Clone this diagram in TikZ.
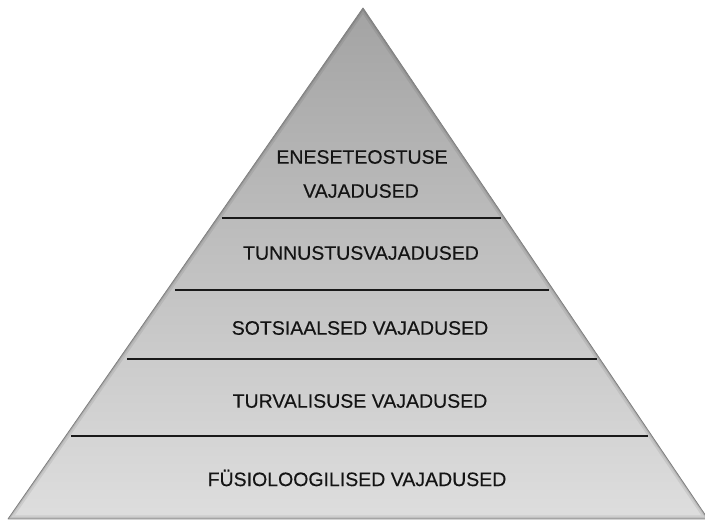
\documentclass[tikz,border=0pt]{standalone}
\usepackage{fontspec}
\setmainfont{Liberation Sans}
\newfontfamily\levelfont[FakeBold=0.25]{Liberation Sans}
\begin{document}
\begin{tikzpicture}[x=1pt,y=-1pt,
  level/.style={font=\levelfont\fontsize{19.5}{22}\selectfont, text=black!92, inner sep=0pt, align=center},
  divider/.style={line width=2pt, draw=black!90},
  pyramidfill/.style={top color=black!36, middle color=black!21, bottom color=black!13}]
  \useasboundingbox (0,0) rectangle (705,521);

  % pyramid corners
  \coordinate (apex) at (363,8);
  \coordinate (bl) at (8,519);
  \coordinate (br) at (708,519);

  % body with vertical gradient
  \path[pyramidfill] (apex) -- (br) -- (bl) -- cycle;
  % soft inner shading along the edges
  \begin{scope}
    \clip (apex) -- (br) -- (bl) -- cycle;
    \draw[line width=7pt, black, opacity=0.07] (apex) -- (br) -- (bl) -- cycle;
    \draw[line width=3pt, black, opacity=0.10] (apex) -- (br) -- (bl) -- cycle;
  \end{scope}
  \draw[line width=0.8pt, black!50, line join=round] (apex) -- (br) -- (bl) -- cycle;

  % dividers between levels
  \coordinate (d1l) at (222,218); \coordinate (d1r) at (501,218);
  \coordinate (d2l) at (175,290); \coordinate (d2r) at (549,290);
  \coordinate (d3l) at (127,359); \coordinate (d3r) at (597,359);
  \coordinate (d4l) at (71,436);  \coordinate (d4r) at (648,436);
  \draw[divider] (d1l) -- (d1r);
  \draw[divider] (d2l) -- (d2r);
  \draw[divider] (d3l) -- (d3r);
  \draw[divider] (d4l) -- (d4r);

  % level labels
  \node[level] (self1) at (362,157) {ENESETEOSTUSE};
  \node[level] (self2) at (361,191) {VAJADUSED};
  \node[level] (esteem) at (361,253) {TUNNUSTUSVAJADUSED};
  \node[level] (social) at (360,328) {SOTSIAALSED VAJADUSED};
  \node[level] (safety) at (360,401) {TURVALISUSE VAJADUSED};
  \node[level] (physio) at (357,478) {FÜSIOLOOGILISED VAJADUSED};
\end{tikzpicture}
\end{document}
